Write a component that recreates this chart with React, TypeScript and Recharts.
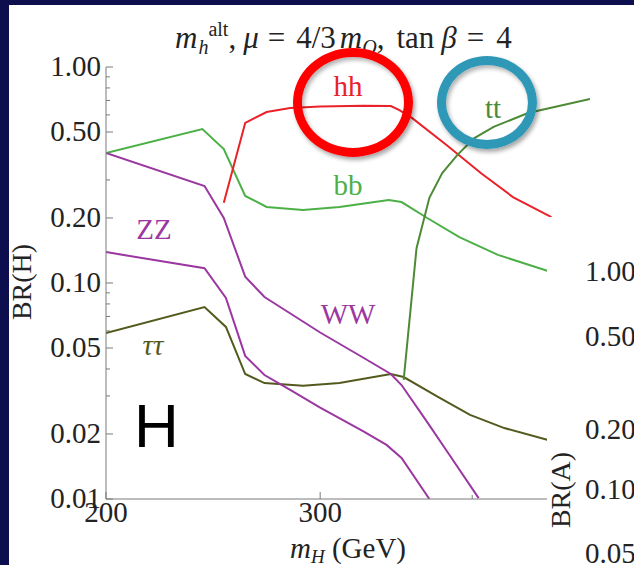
import { LineChart, Line, XAxis, YAxis } from 'recharts'

// BR(H) vs m_H
const BB_MH = [200, 245, 255, 265, 275, 292, 309, 332, 338, 350, 365, 383, 406]
const BB_BR = [0.4, 0.516, 0.417, 0.253, 0.225, 0.218, 0.225, 0.242, 0.237, 0.2, 0.163, 0.135, 0.114]

const HH_MH = [255, 265, 275, 286, 300, 320, 333, 337, 343, 359, 375, 390, 408]
const HH_BR = [0.235, 0.551, 0.619, 0.646, 0.656, 0.662, 0.66, 0.632, 0.58, 0.435, 0.323, 0.25, 0.202]

const TT_MH = [339, 345, 351, 357, 364, 372, 381, 397, 426]
const TT_BR = [0.0356, 0.145, 0.248, 0.323, 0.391, 0.469, 0.528, 0.612, 0.711]

const TAU_MH = [200, 246, 256, 265, 274, 292, 309, 333, 339, 355, 370, 386, 406]
const TAU_BR = [0.0587, 0.0774, 0.0626, 0.0379, 0.0344, 0.0334, 0.0344, 0.0379, 0.0367, 0.0297, 0.0245, 0.0213, 0.0188]

const WW_MH = [200, 246, 255, 265, 274, 285, 300, 320, 333, 338, 350, 360, 374]
const WW_BR = [0.4, 0.281, 0.2, 0.107, 0.0861, 0.0734, 0.059, 0.0452, 0.0379, 0.0337, 0.0227, 0.0162, 0.0101]

const ZZ_MH = [200, 246, 256, 265, 274, 286, 300, 320, 331, 338, 351]
const ZZ_BR = [0.139, 0.117, 0.0852, 0.046, 0.0375, 0.032, 0.0265, 0.0206, 0.0178, 0.0155, 0.01]

const Y_MAJOR = [0.01, 0.02, 0.05, 0.1, 0.2, 0.5, 1]
const Y_MINOR = [0.03, 0.04, 0.06, 0.07, 0.08, 0.09, 0.3, 0.4, 0.6, 0.7, 0.8, 0.9]
const X_MAJOR = [200, 300]
const X_MINOR = [371]
// tick labels of the second (BR(A)) panel peeking in from the right
const A_TICKS = ['1.00', '0.50', '0.20', '0.10', '0.05']

const zip = (mh: number[], br: number[]) => mh.map((m, i) => ({ mh: m, br: br[i] }))

const SERIF = '"Liberation Serif", "DejaVu Serif", serif'
const INK = '#232323'
const AXIS_LO = '#7a7a7a'
const AXIS_HI = '#444'
const TICK_FS = 29

const C = {
  bb: '#4cb047',
  hh: '#ea2229',
  tt: '#4d8a35',
  tau: '#545a1d',
  vv: '#9b37a0',
}

const fmt = (v: number) => v.toFixed(2)

function LeftTick(props: any) {
  const { x, y, payload } = props
  const major = Y_MAJOR.includes(payload.value)
  return (
    <g>
      <line x1={x} x2={x + (major ? 7 : 4)} y1={y} y2={y} stroke={AXIS_LO} />
      {major && (
        <text x={x - 5} y={y + 9} textAnchor="end" fontFamily={SERIF} fontSize={TICK_FS} fill={INK}>
          {fmt(payload.value)}
        </text>
      )}
    </g>
  )
}

function RightTick(props: any) {
  const { x, y, payload } = props
  const major = Y_MAJOR.includes(payload.value)
  return <line x1={x} x2={x - (major ? 7 : 4)} y1={y} y2={y} stroke={AXIS_HI} />
}

function BottomTick(props: any) {
  const { x, y, payload } = props
  const major = X_MAJOR.includes(payload.value)
  return (
    <g>
      <line x1={x} x2={x} y1={y} y2={y - (major ? 7 : 4)} stroke={AXIS_LO} />
      {major && (
        <text x={x} y={y + 23} textAnchor="middle" fontFamily={SERIF} fontSize={TICK_FS} fill={INK}>
          {payload.value}
        </text>
      )}
    </g>
  )
}

function TopTick(props: any) {
  const { x, y, payload } = props
  const major = X_MAJOR.includes(payload.value)
  return <line x1={x} x2={x} y1={y} y2={y + (major ? 7 : 4)} stroke={AXIS_HI} />
}

const ring = (color: string) => ({
  position: 'absolute' as const,
  boxSizing: 'border-box' as const,
  border: `9px solid ${color}`,
  borderRadius: '50%',
  boxShadow: '2px 3px 4px rgba(0,0,0,0.35), inset 2px 3px 4px rgba(0,0,0,0.3)',
})

export default function App() {
  const series = [
    { key: 'bb', data: zip(BB_MH, BB_BR), color: C.bb },
    { key: 'tau', data: zip(TAU_MH, TAU_BR), color: C.tau },
    { key: 'ww', data: zip(WW_MH, WW_BR), color: C.vv },
    { key: 'zz', data: zip(ZZ_MH, ZZ_BR), color: C.vv },
    { key: 'hh', data: zip(HH_MH, HH_BR), color: C.hh },
    { key: 'tt', data: zip(TT_MH, TT_BR), color: C.tt },
  ]
  const yTicks = [...Y_MAJOR, ...Y_MINOR]
  const xTicks = [...X_MAJOR, ...X_MINOR]

  return (
    <div style={{ position: 'fixed', left: 0, top: 0, width: 634, height: 565, background: '#0c0e4e', overflow: 'hidden' }}>
      <div style={{ position: 'absolute', left: 9, top: 5, right: 0, bottom: 0, background: '#fff' }} />

      <div style={{ position: 'absolute', left: 0, top: 0 }}>
        <LineChart width={634} height={565} margin={{ top: 67, right: 44, bottom: 36, left: 46 }}>
          <XAxis
            xAxisId="b"
            dataKey="mh"
            type="number"
            domain={[200, 426]}
            allowDataOverflow
            ticks={xTicks}
            interval={0}
            tickSize={0}
            tickMargin={0}
            tickLine={false}
            tick={<BottomTick />}
            stroke={AXIS_LO}
            height={30}
          />
          <XAxis
            xAxisId="t"
            orientation="top"
            dataKey="mh"
            type="number"
            domain={[200, 426]}
            allowDataOverflow
            ticks={xTicks}
            interval={0}
            tickSize={0}
            tickMargin={0}
            tickLine={false}
            tick={<TopTick />}
            stroke={AXIS_HI}
            height={0}
          />
          <YAxis
            yAxisId="l"
            scale="log"
            domain={[0.01, 1]}
            allowDataOverflow
            ticks={yTicks}
            interval={0}
            tickSize={0}
            tickMargin={0}
            tickLine={false}
            tick={<LeftTick />}
            stroke={AXIS_LO}
            width={60}
          />
          <YAxis
            yAxisId="r"
            orientation="right"
            scale="log"
            domain={[0.01, 1]}
            allowDataOverflow
            ticks={yTicks}
            interval={0}
            tickSize={0}
            tickMargin={0}
            tickLine={false}
            tick={<RightTick />}
            stroke={AXIS_HI}
            width={0}
          />
          {series.map((s) => (
            <Line
              key={s.key}
              xAxisId="b"
              yAxisId="l"
              data={s.data}
              dataKey="br"
              type="linear"
              stroke={s.color}
              strokeWidth={2}
              dot={false}
              activeDot={false}
              isAnimationActive={false}
            />
          ))}
          {/* keep the mirrored frame axes bound to something */}
          <Line xAxisId="t" yAxisId="r" data={zip(TT_MH, TT_BR)} dataKey="br" stroke="none" dot={false} activeDot={false} isAnimationActive={false} />
        </LineChart>
      </div>

      <svg width={634} height={565} style={{ position: 'absolute', left: 0, top: 0, pointerEvents: 'none' }}>
        <text x={175} y={48} fontFamily={SERIF} fontSize={31} fill={INK}>
          <tspan fontStyle="italic">m</tspan>
          <tspan fontStyle="italic" fontSize={20} dx={1} dy={6}>h</tspan>
          <tspan fontSize={20} dy={-18}>alt</tspan>
          <tspan dy={12}>,</tspan>
          <tspan fontStyle="italic" dx={7}>μ</tspan>
          <tspan dx={9}>=</tspan>
          <tspan dx={11}>4/3</tspan>
          <tspan fontStyle="italic" dx={4}>m</tspan>
          <tspan fontStyle="italic" fontSize={20} dy={6}>Q</tspan>
          <tspan dy={-6}>,</tspan>
          <tspan dx={12}>tan</tspan>
          <tspan fontStyle="italic" dx={7}>β</tspan>
          <tspan dx={10}>=</tspan>
          <tspan dx={12}>4</tspan>
        </text>

        <text transform="translate(31,282) rotate(-90)" textAnchor="middle" fontFamily={SERIF} fontSize={28} fill={INK}>
          BR(H)
        </text>
        <text x={348} y={558} textAnchor="middle" fontFamily={SERIF} fontSize={29} fill={INK}>
          <tspan fontStyle="italic">m</tspan>
          <tspan fontStyle="italic" fontSize={19} dy={5}>H</tspan>
          <tspan dy={-5}> (GeV)</tspan>
        </text>

        <text x={348} y={96} textAnchor="middle" fontFamily={SERIF} fontSize={29} fill={C.hh}>hh</text>
        <text x={348} y={195} textAnchor="middle" fontFamily={SERIF} fontSize={29} fill={C.bb}>bb</text>
        <text x={348} y={324} textAnchor="middle" fontFamily={SERIF} fontSize={29} fill={C.vv}>WW</text>
        <text x={154} y={239} textAnchor="middle" fontFamily={SERIF} fontSize={29} fill={C.vv}>ZZ</text>
        <text x={153} y={355} textAnchor="middle" fontFamily={SERIF} fontSize={29} fontStyle="italic" fill={C.tau}>ττ</text>
        <text x={493} y={118} textAnchor="middle" fontFamily={SERIF} fontSize={29} fill={C.tt}>tt</text>

        <text x={134} y={447} fontFamily='"Liberation Sans", Arial, sans-serif' fontSize={62} fill="#000">H</text>
      </svg>

      <div style={{ ...ring('#ff0000'), left: 293, top: 48, width: 120, height: 109 }} />
      <div style={{ ...ring('#2f98b7'), left: 437, top: 56, width: 100, height: 93 }} />

      {/* second panel (BR(A)) overlapping the lower right */}
      <div style={{ position: 'absolute', left: 547, top: 217, right: 0, bottom: 0, background: '#fff' }} />
      <svg width={634} height={565} style={{ position: 'absolute', left: 0, top: 0, pointerEvents: 'none' }}>
        {A_TICKS.map((t, i) => (
          <text key={t} x={585} y={[281, 346, 439, 499, 563][i]} fontFamily={SERIF} fontSize={TICK_FS} fill={INK}>
            {t}
          </text>
        ))}
        <text transform="translate(570,490) rotate(-90)" textAnchor="middle" fontFamily={SERIF} fontSize={28} fill={INK}>
          BR(A)
        </text>
      </svg>
    </div>
  )
}
